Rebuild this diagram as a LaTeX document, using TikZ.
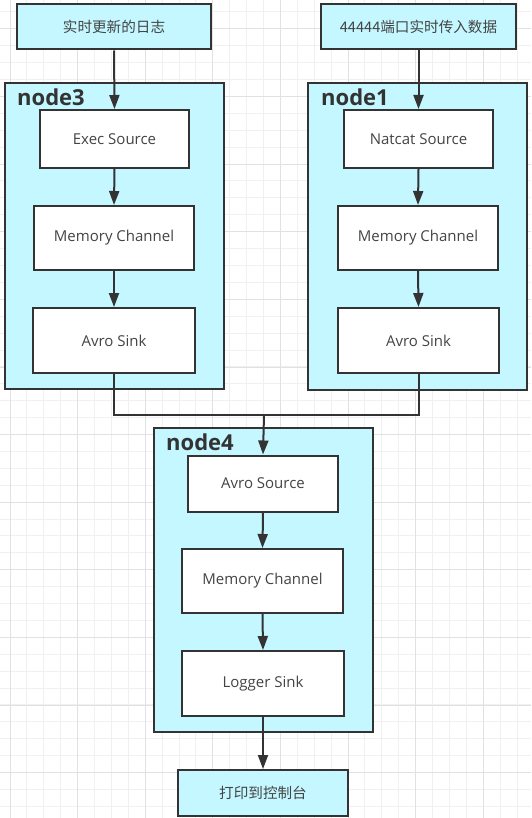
\documentclass[tikz,border=0pt]{standalone}
\usepackage{fontspec}
\setmainfont{Open Sans}
\newfontfamily\cjk{Noto Sans CJK SC}
\usetikzlibrary{arrows.meta}
\definecolor{cyanfill}{RGB}{196,247,255}
\definecolor{strokec}{RGB}{51,51,51}
\definecolor{textc}{RGB}{68,68,68}
\definecolor{gridminor}{RGB}{240,240,240}
\definecolor{gridmajor}{RGB}{225,225,225}
\tikzset{
  container/.style={draw=strokec, line width=2pt, fill=cyanfill, inner sep=0pt},
  inbox/.style={draw=strokec, line width=2pt, fill=white, inner sep=0pt, text=textc, font=\fontsize{15}{17}\selectfont},
  outbox/.style={draw=strokec, line width=2pt, fill=cyanfill, inner sep=0pt, text=textc, font=\fontsize{14.6}{17}\selectfont\cjk},
  title/.style={anchor=base west, inner sep=0pt, text=strokec, font=\fontsize{22}{25}\selectfont\bfseries},
  conn/.style={draw=strokec, line width=2pt},
  arr/.style={conn, -{Triangle[length=14pt,width=10pt]}}
}
\begin{document}
\begin{tikzpicture}[x=1pt,y=-1pt]
\useasboundingbox (0,0) rectangle (531,818);
\fill[white] (0,0) rectangle (531,818);
% grid
\foreach \i in {0,...,32} {
  \draw[gridminor, line width=1pt] ({10+16.9*\i},0) -- ({10+16.9*\i},818);
}
\foreach \i in {0,...,48} {
  \draw[gridminor, line width=1pt] (0,{12+16.9*\i}) -- (531,{12+16.9*\i});
}
\foreach \i in {0,...,8} {
  \draw[gridmajor, line width=1pt] ({10+67.6*\i},0) -- ({10+67.6*\i},818);
}
\foreach \i in {0,...,12} {
  \draw[gridmajor, line width=1pt] (0,{29+67.6*\i}) -- (531,{29+67.6*\i});
}

% top input boxes
\node[outbox, minimum width=194pt, minimum height=45pt] (logs) at (114,27) {实时更新的日志};
\node[outbox, minimum width=195pt, minimum height=45pt] (port) at (418.5,27) {44444端口实时传入数据};

% containers
\node[container, minimum width=219pt, minimum height=305pt] (n3) at (114.5,236) {};
\node[container, minimum width=219pt, minimum height=306pt] (n1) at (417.5,236.5) {};
\node[container, minimum width=219pt, minimum height=304pt] (n4) at (263,580) {};
\node[title] (t3) at (17,106) {node3};
\node[title] (t1) at (321,106) {node1};
\node[title] (t4) at (166,450) {node4};

% node3 inner
\node[inbox, minimum width=149pt, minimum height=58pt] (es) at (114.5,139) {Exec Source};
\node[inbox, minimum width=160pt, minimum height=64pt] (mc3) at (114,238) {Memory Channel};
\node[inbox, minimum width=162pt, minimum height=65pt] (as3) at (114,340.5) {Avro Sink};

% node1 inner
\node[inbox, minimum width=149pt, minimum height=58pt] (ns) at (418.5,139) {Natcat Source};
\node[inbox, minimum width=160pt, minimum height=64pt] (mc1) at (418,238) {Memory Channel};
\node[inbox, minimum width=161pt, minimum height=65pt] (as1) at (418.5,340.5) {Avro Sink};

% node4 inner
\node[inbox, minimum width=150pt, minimum height=56pt] (avs) at (263,483.5) {Avro Source};
\node[inbox, minimum width=161pt, minimum height=64pt] (mc4) at (262.5,581) {Memory Channel};
\node[inbox, minimum width=162pt, minimum height=65pt] (ls) at (263,683.5) {Logger Sink};

% output
\node[outbox, minimum width=170pt, minimum height=46pt] (out) at (263,793) {打印到控制台};

% connectors
\draw[arr] (logs.south) -- (es.north);
\draw[arr] (es.south) -- (mc3.north);
\draw[arr] (mc3.south) -- (as3.north);
\draw[arr] (port.south) -- (ns.north);
\draw[arr] (ns.south) -- (mc1.north);
\draw[arr] (mc1.south) -- (as1.north);
\coordinate (mid) at (264,415);
\draw[conn] (as3.south) |- (mid) -| (as1.south);
\draw[arr] (mid) -- (avs.north);
\draw[arr] (avs.south) -- (mc4.north);
\draw[arr] (mc4.south) -- (ls.north);
\draw[arr] (ls.south) -- (out.north);
\end{tikzpicture}
\end{document}
